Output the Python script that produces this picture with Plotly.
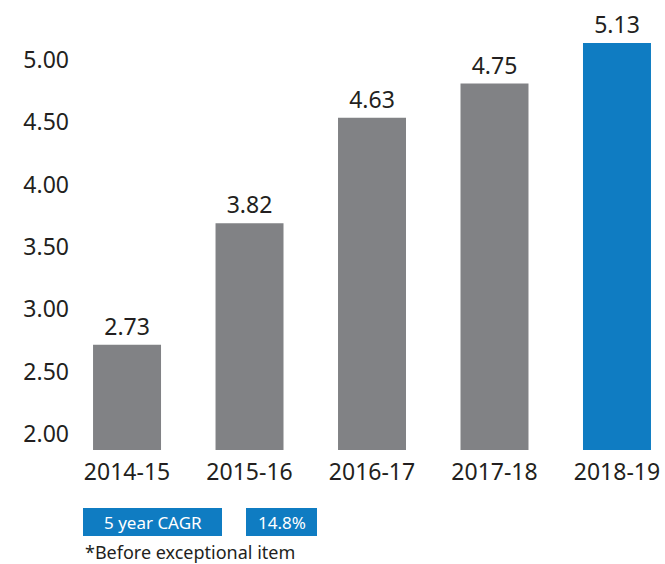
import plotly.graph_objects as go

categories = ["2014-15", "2015-16", "2016-17", "2017-18", "2018-19"]
bar_values = [2.716, 3.69, 4.535, 4.81, 5.136]
value_labels = ["2.73", "3.82", "4.63", "4.75", "5.13"]
bar_colors = ["#818285", "#818285", "#818285", "#818285", "#0F7CC2"]
y_ticks = [2.0, 2.5, 3.0, 3.5, 4.0, 4.5, 5.0]
y_tick_labels = ["2.00", "2.50", "3.00", "3.50", "4.00", "4.50", "5.00"]
cagr_label = "5 year CAGR"
cagr_value = "14.8%"
footnote = "*Before exceptional item"

FONT = "Noto Sans"
TXT = "#231F20"
Y_MIN = 1.872

fig = go.Figure()
fig.add_trace(go.Bar(
    x=list(range(len(categories))),
    y=[v - Y_MIN for v in bar_values],
    base=Y_MIN,
    marker=dict(color=bar_colors, line=dict(width=0)),
    text=value_labels,
    textposition="outside",
    textfont=dict(family=FONT, size=23, color=TXT),
    cliponaxis=False,
    width=0.555,
    hoverinfo="skip",
))

W, H = 665, 564
L, T, B = 80, 0, 114
pw, ph = W - L, H - T - B

def px(x):
    return (x - L) / pw

def py(y):
    return (H - B - y) / ph

fig.update_layout(
    width=W, height=H,
    margin=dict(l=L, r=0, t=T, b=B),
    paper_bgcolor="white", plot_bgcolor="white",
    showlegend=False,
    font=dict(family=FONT, color=TXT),
    xaxis=dict(
        range=[-0.384, 4.392],
        tickmode="array",
        tickvals=list(range(len(categories))),
        ticktext=categories,
        tickfont=dict(family=FONT, size=23, color=TXT),
        showgrid=False, zeroline=False, showline=False,
        ticks="", ticklabelstandoff=6,
    ),
    yaxis=dict(
        range=[Y_MIN, 5.48],
        tickmode="array",
        tickvals=y_ticks,
        ticktext=y_tick_labels,
        tickfont=dict(family=FONT, size=23, color=TXT),
        showgrid=False, zeroline=False, showline=False,
        ticks="", ticklabelstandoff=10,
    ),
)

shapes = [
    dict(type="rect", xref="paper", yref="paper",
         x0=px(83), x1=px(222), y0=py(536), y1=py(508),
         fillcolor="#0F7CC2", line=dict(width=0)),
    dict(type="rect", xref="paper", yref="paper",
         x0=px(246), x1=px(317), y0=py(536), y1=py(508),
         fillcolor="#0F7CC2", line=dict(width=0)),
]
fig.update_layout(shapes=shapes)

fig.add_annotation(xref="paper", yref="paper", x=px(152.5), y=py(522),
                   text=cagr_label, showarrow=False,
                   font=dict(family=FONT, size=17, color="white"),
                   xanchor="center", yanchor="middle")
fig.add_annotation(xref="paper", yref="paper", x=px(281.5), y=py(522),
                   text=cagr_value, showarrow=False,
                   font=dict(family=FONT, size=17, color="white"),
                   xanchor="center", yanchor="middle")
fig.add_annotation(xref="paper", yref="paper", x=px(83), y=py(552),
                   text=footnote, showarrow=False,
                   font=dict(family=FONT, size=18, color=TXT),
                   xanchor="left", yanchor="middle")

fig.write_html("out.html",
               config={"displayModeBar": False},
               post_script="document.body.style.margin='0';document.body.style.overflow='hidden';")
